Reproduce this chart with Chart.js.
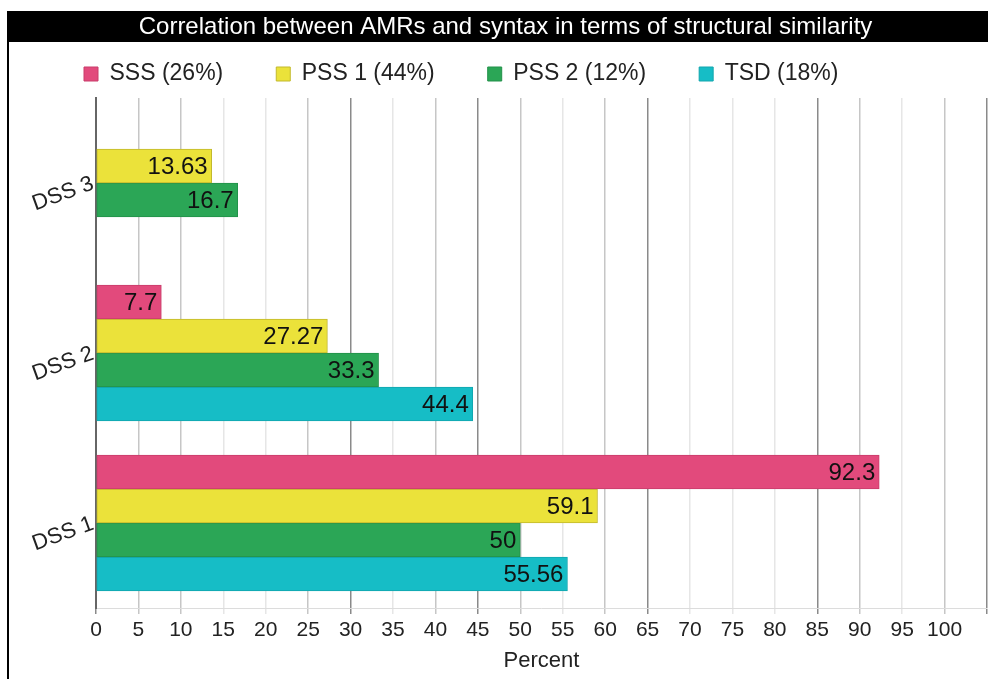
<!DOCTYPE html>
<html><head><meta charset="utf-8">
<script src="https://cdn.jsdelivr.net/npm/chart.js@4.4.0/dist/chart.umd.min.js"></script>
<style>html,body{margin:0;padding:0;background:#fff}#wrap{position:relative;width:991px;height:679px}</style>
</head><body><div id="wrap"><canvas id="c"></canvas></div>
<script>
// ---- data ----
const chartTitle = 'Correlation between AMRs and syntax in terms of structural similarity';
const categories = ['DSS 3', 'DSS 2', 'DSS 1'];
const seriesNames = ['SSS (26%)', 'PSS 1 (44%)', 'PSS 2 (12%)', 'TSD (18%)'];
const sssValues  = [null, 7.7, 92.3];
const pss1Values = [13.63, 27.27, 59.1];
const pss2Values = [16.7, 33.3, 50];
const tsdValues  = [null, 44.4, 55.56];
const xTickLabels = [0, 5, 10, 15, 20, 25, 30, 35, 40, 45, 50, 55, 60, 65, 70, 75, 80, 85, 90, 95, 100];
const xAxisTitle = 'Percent';

// ---- styles ----
const FONT = '"Liberation Sans", Arial, Helvetica, sans-serif';
const fills   = ['#e24a7c', '#ebe23a', '#2ba656', '#16bdc6'];
const borders = ['#c93d6b', '#c2b92c', '#23914a', '#12a6ae'];
const gridDark = [0, 30, 45, 65, 85, 105];
const gridMid  = [5, 10, 25, 40, 50, 60, 90, 100];

Chart.defaults.font.family = FONT;
Chart.defaults.color = '#222';

const seriesValues = [sssValues, pss1Values, pss2Values, tsdValues];

const framePlugin = {
  id: 'frame',
  beforeDraw(chart) {
    const ctx = chart.ctx, tb = chart.titleBlock;
    ctx.save();
    ctx.fillStyle = '#fff';
    ctx.fillRect(0, 0, chart.width, chart.height);
    ctx.fillStyle = '#000';
    ctx.fillRect(8, tb.top, 980, tb.height);
    ctx.fillRect(7, tb.top, 2, chart.height - tb.top);
    ctx.restore();
  },
  afterLayout(chart) {
    const lg = chart.legend;
    lg.left += 23;
    lg.top = 9.5;
    chart.titleBlock.left += 15;
  }
};

const valueLabels = {
  id: 'valueLabels',
  afterDatasetsDraw(chart) {
    const ctx = chart.ctx;
    ctx.save();
    ctx.font = '24px ' + FONT;
    ctx.fillStyle = '#111';
    ctx.textAlign = 'right';
    ctx.textBaseline = 'middle';
    chart.data.datasets.forEach((ds, i) => {
      const meta = chart.getDatasetMeta(i);
      meta.data.forEach((el, j) => {
        const v = ds.data[j];
        if (v === null || v === undefined) return;
        ctx.fillText(String(v), el.x - 4, el.y + 1);
      });
    });
    ctx.restore();
  }
};

new Chart(document.getElementById('c'), {
  type: 'bar',
  data: {
    labels: categories,
    datasets: seriesNames.map((name, i) => ({
      label: name,
      data: seriesValues[i],
      backgroundColor: fills[i],
      borderColor: borders[i],
      borderWidth: 1,
      borderSkipped: false
    }))
  },
  options: {
    indexAxis: 'y',
    responsive: true,
    maintainAspectRatio: false,
    animation: false,
    datasets: { bar: { skipNull: true, barThickness: 34 } },
    layout: { padding: { top: 11, left: 8, right: 3, bottom: 0 } },
    plugins: {
      tooltip: { enabled: false },
      title: {
        display: true,
        text: chartTitle,
        color: '#fff',
        font: { size: 24, weight: 'normal', lineHeight: 1.1 },
        padding: { top: 3.4, bottom: 1.2 }
      },
      legend: {
        display: true,
        align: 'start',
        maxHeight: 56,
        labels: {
          boxWidth: 14,
          boxHeight: 14,
          padding: 53,
          color: '#222',
          font: { size: 23 }
        }
      }
    },
    scales: {
      x: {
        type: 'linear',
        min: 0,
        max: 105,
        afterFit(scale) { scale.height = 71; },
        ticks: {
          stepSize: 5,
          autoSkip: false,
          maxRotation: 0,
          minRotation: 0,
          padding: 4,
          color: '#222',
          font: { size: 21 },
          callback: (v) => xTickLabels.includes(v) ? String(v) : ''
        },
        grid: {
          drawTicks: true,
          tickLength: 6,
          lineWidth: 1.5,
          color: (c) => {
            const v = c.tick ? c.tick.value : null;
            if (gridDark.includes(v)) return '#8a8a8a';
            if (gridMid.includes(v)) return '#c6c6c6';
            return '#e6e6e6';
          }
        },
        border: { display: true, color: '#dcdcdc', width: 1 },
        title: {
          display: true,
          text: xAxisTitle,
          color: '#222',
          font: { size: 22 },
          padding: { top: 4, bottom: 5 }
        }
      },
      y: {
        afterFit(scale) { scale.width = 88; },
        ticks: {
          minRotation: 20,
          maxRotation: 20,
          padding: 3,
          color: '#222',
          font: { size: 22 }
        },
        grid: { display: false, drawTicks: false },
        border: { display: true, color: '#666', width: 2 }
      }
    }
  },
  plugins: [framePlugin, valueLabels]
});
</script>
</body></html>
